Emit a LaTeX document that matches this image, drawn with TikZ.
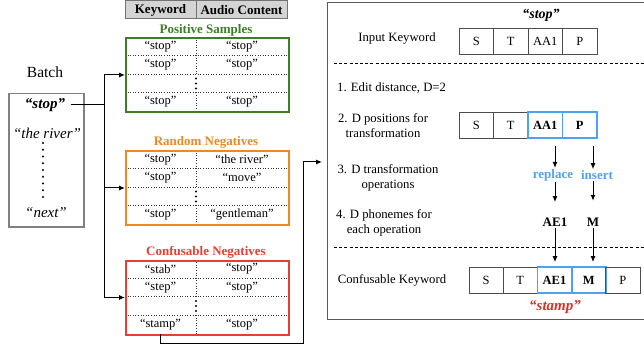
\documentclass[tikz,border=0pt]{standalone}
\usepackage{fontspec}
\setmainfont{Liberation Serif}
\usetikzlibrary{arrows.meta,calc}
\definecolor{cgreen}{RGB}{62,125,40}
\definecolor{corange}{RGB}{240,136,30}
\definecolor{cred}{RGB}{234,60,48}
\definecolor{cblue}{RGB}{77,163,240}
\definecolor{cred2}{RGB}{214,50,40}
\newcommand\mytable[9]{%
  \foreach \i in {1,2,3}{\draw[rowsep] (125,#1+18.5*\i) -- (288,#1+18.5*\i);}
  \draw[rowsep] (196,#1) -- (196,#1+37);
  \draw[rowsep] (196,#1+55.5) -- (196,#1+74);
  \foreach \j in {0,1,2}{\fill (196,#1+41.5+5*\j) circle (1.1pt);}
  \node[ent] (#2a1) at (160.5,#1+9.25) {#3};
  \node[ent] (#2b1) at (242,#1+9.25) {#4};
  \node[ent] (#2a2) at (160.5,#1+27.75) {#5};
  \node[ent] (#2b2) at (242,#1+27.75) {#6};
  \node[ent] (#2a4) at (160.5,#1+64.75) {#7};
  \node[ent] (#2b4) at (242,#1+64.75) {#8};
  \node[tbl, draw=#9] (#2) at (125,#1) {};
}
\begin{document}
\begin{tikzpicture}[x=1pt,y=-1pt,
  txt/.style={font=\fontsize{12.7}{15}\selectfont, inner sep=1pt},
  ent/.style={font=\fontsize{12.5}{14}\selectfont, inner sep=1pt},
  ttl/.style={font=\fontsize{13}{15}\selectfont\bfseries},
  bat/.style={font=\fontsize{15}{18}\selectfont\itshape},
  batb/.style={font=\fontsize{15}{18}\selectfont\bfseries\itshape},
  hdr/.style={draw=black!55, fill=black!17, line width=1pt, minimum height=18pt, inner sep=0, anchor=north west},
  tbl/.style={line width=2pt, minimum width=163pt, minimum height=74pt, anchor=north west, inner sep=0},
  rowsep/.style={black!80, line width=0.6pt, dotted},
  cell/.style={draw=black!70, line width=0.8pt, minimum width=34.5pt, minimum height=26pt, inner sep=0, font=\fontsize{12.5}{14}\selectfont},
  cell3/.style={cell, minimum width=34.2pt},
  hl/.style={draw=cblue, line width=1.8pt, font=\fontsize{12.5}{14}\selectfont\bfseries},
  op/.style={font=\fontsize{13}{15}\selectfont\bfseries, text=cblue, inner sep=1pt},
  ph/.style={font=\fontsize{13}{15}\selectfont\bfseries, inner sep=1pt},
  arr/.style={line width=1pt, -{Latex[length=6pt,width=5pt]}},
  dline/.style={line width=0.8pt, dash pattern=on 3pt off 2.2pt}
]
\useasboundingbox (0,0) rectangle (644,347);
\clip (0,0) rectangle (644,347);

% header
\node[hdr, minimum width=71pt] (hk) at (125,0) {};
\node[hdr, minimum width=91pt] (ha) at (196,0) {};
\node[font=\fontsize{13}{15}\selectfont\bfseries] (hkt) at (160.5,10.5) {Keyword};
\node[font=\fontsize{13}{15}\selectfont\bfseries] (hat) at (241.5,10.5) {Audio Content};

% titles
\node[ttl, text=cgreen] (tpos) at (206,30) {Positive Samples};
\node[ttl, text=corange] (trnd) at (206,142) {Random Negatives};
\node[ttl, text=cred] (tconf) at (206,252) {Confusable Negatives};

% tables
\mytable{37}{pos}{“stop”}{“stop”}{“stop”}{“stop”}{“stop”}{“stop”}{cgreen}
\mytable{150}{rnd}{“stop”}{“the river”}{“stop”}{“move”}{“stop”}{“gentleman”}{corange}
\mytable{259.5}{conf}{“stab”}{“stop”}{“step”}{“stop”}{“stamp”}{“stop”}{cred}

% batch
\node[font=\fontsize{15.5}{18}\selectfont] (batch) at (45,72) {Batch};
\node[draw=black!50, line width=1.5pt, minimum width=75pt, minimum height=133pt, anchor=north west, inner sep=0] (bbox) at (8,93) {};
\node[batb] (bstop) at (45,105) {“stop”};
\node[bat] (briver) at (47,133) {“the river”};
\node[bat] (bnext) at (46,213) {“next”};
\foreach \k in {0,...,8}{\fill (43,143+6.75*\k) circle (1.1pt);}

% batch connectors
\coordinate (j) at (104,105);
\draw[line width=1pt] ([xshift=2pt]bstop.east) -- (j);
\draw[arr] (j) |- (pos.west);
\draw[arr] (j) |- (rnd.west);
\draw[arr] (j) |- (conf.west);

% right panel
\node[draw=black!65, line width=1pt, minimum width=330pt, minimum height=317pt, anchor=north west, inner sep=0] (panel) at (327,2) {};
\coordinate (cb) at (160,334);
\coordinate (pin) at (322,162);
\draw[arr] (cb) |- (303,343) |- (pin);

\node[font=\fontsize{14}{16}\selectfont\bfseries\itshape] (wstop) at (541,15) {“stop”};
\node[txt] (lin) at (397,38) {Input Keyword};
\node[cell] (p1a) at (476.25,41) {S};
\node[cell] (p1b) at (510.75,41) {T};
\node[cell] (p1c) at (545.25,41) {AA1};
\node[cell] (p1d) at (579.75,41) {P};

\draw[dline] (334,63) -- (650,63);

\node[txt, anchor=west] (s1) at (336,88) {1. Edit distance, D=2};
\node[txt, align=center] (s2) at (383,125.5) {2. D positions for\\transformation};
\node[txt, align=center] (s3) at (388,177.5) {3. D transformation\\operations};
\node[txt, align=center] (s4) at (384,223) {4. D phonemes for\\each operation};

\node[cell] (p2a) at (476.25,125) {S};
\node[cell] (p2b) at (510.75,125) {T};
\node[cell, hl] (p2c) at (545.25,125) {AA1};
\node[cell, hl] (p2d) at (579.75,125) {P};

\node[op] (rep) at (553,175) {replace};
\node[op] (ins) at (597,175) {insert};
\node[ph] (ae) at (555,222) {AE1};
\node[ph] (mm) at (593,222) {M};

\draw[arr] ([yshift=-7pt]p2c.south -| ae) -- (rep.north -| ae);
\draw[arr] ([yshift=-7pt]p2d.south -| mm) -- (ins.north -| mm);
\draw[arr] (rep.south -| ae) -- ++(0,20);
\draw[arr] (ins.south -| mm) -- ++(0,20);

\draw[dline] (334,247) -- (650,247);

\node[txt] (lconf) at (392,280) {Confusable Keyword};
\node[cell3] (p3a) at (486.1,280) {S};
\node[cell3] (p3b) at (520.3,280) {T};
\node[cell3, hl] (p3c) at (554.5,280) {AE1};
\node[cell3, hl] (p3d) at (588.7,280) {M};
\node[cell3] (p3e) at (622.9,280) {P};

\draw[arr, shorten >=4pt] ([yshift=-1pt]ae.south) -- (ae.south |- p3c.north);
\draw[arr, shorten >=4pt] ([yshift=-1pt]mm.south) -- (mm.south |- p3d.north);

\node[font=\fontsize{15}{17}\selectfont\bfseries\itshape, text=cred2] (wstamp) at (555,307) {“stamp”};
\end{tikzpicture}
\end{document}
